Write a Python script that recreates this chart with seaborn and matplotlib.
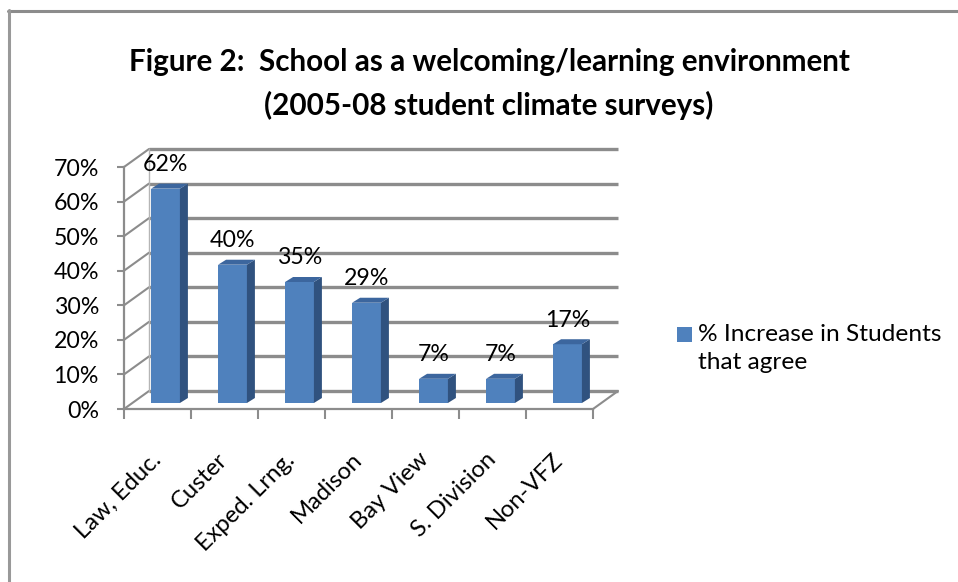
import matplotlib
matplotlib.use("Agg")
import matplotlib.pyplot as plt
import matplotlib.transforms as mtransforms
from matplotlib.patches import Polygon, Rectangle
from matplotlib.lines import Line2D
import seaborn as sns

# ---------------- data ----------------
categories = ["Law, Educ.", "Custer", "Exped. Lrng.", "Madison", "Bay View", "S. Division", "Non-VFZ"]
values = [62, 40, 35, 29, 7, 7, 17]
y_ticks = [0, 10, 20, 30, 40, 50, 60, 70]
y_tick_labels = [f"{v}%" for v in y_ticks]
title_line1 = "Figure 2:  School as a welcoming/learning environment"
title_line2 = "(2005-08 student climate surveys)"
legend_line1 = "% Increase in Students"
legend_line2 = "that agree"

# ---------------- style ----------------
sns.set_style("white")
FONT = ["Lato", "DejaVu Sans"]
plt.rcParams["font.family"] = FONT

W, H = 958, 582
fig = plt.figure(figsize=(W / 100, H / 100), dpi=100)
fig.patch.set_facecolor("white")

def fx(px):
    return px / W

def fy(py):
    return 1 - py / H

GRAY = "#8c8c8c"
FRONT = "#4f81bd"
SIDE = "#30527f"
TOP = "#3c669e"

# renderer for fitting text sizes
fig.canvas.draw()
rend = fig.canvas.get_renderer()

def width_at(text, size, weight="normal"):
    t = fig.text(0, 0, text, fontsize=size, fontweight=weight, family=FONT)
    w = t.get_window_extent(rend).width
    t.remove()
    return w

ytick_size = 10 * 45.5 / width_at("60%", 10)
value_size = 10 * 45.5 / width_at("40%", 10)
xtick_size = 10 * 111 / width_at("Law, Educ.", 10)
title_size = 10 * 724 / width_at(title_line1, 10, "bold")
legend_size = 10 * 242 / width_at(legend_line1, 10)

# ---------------- figure border (top + left) ----------------
fig.add_artist(Line2D([fx(8), fx(W + 5)], [fy(11), fy(11)], color=GRAY, lw=2.2,
                      transform=fig.transFigure))
fig.add_artist(Line2D([fx(9), fx(9)], [fy(10), fy(H + 5)], color="#999999", lw=2.2,
                      transform=fig.transFigure))

# ---------------- title ----------------
fig.text(fx(489), fy(70.5), title_line1, ha="center", va="baseline",
         fontsize=title_size, fontweight="bold", color="black")
fig.text(fx(489), fy(115), title_line2, ha="center", va="baseline",
         fontsize=title_size, fontweight="bold", color="black")

# ---------------- front axes (walls, floor, ticks) ----------------
PX_PER_CAT = 67.0
PX_PER_PCT = 242.0 / 70.0
ax = fig.add_axes([fx(124), fy(409), 469 / W, 242 / H])
ax.set_xlim(-0.5, len(categories) - 0.5)
ax.set_ylim(0, 70)
ax.patch.set_alpha(0)

DX = 25 / PX_PER_CAT
DY = 18 / PX_PER_PCT
x_left, x_right = -0.5, len(categories) - 0.5

for v in y_ticks:
    ax.plot([x_left + DX, x_right + DX], [v + DY, v + DY], color=GRAY, lw=2.4,
            solid_capstyle="butt", clip_on=False, zorder=1)
    ax.plot([x_left, x_left + DX], [v, v + DY], color=GRAY, lw=1.5,
            clip_on=False, zorder=1)
ax.plot([x_right, x_right + DX], [0, DY], color=GRAY, lw=1.5, clip_on=False, zorder=1)
ax.plot([x_left + DX, x_left + DX], [DY, 70 + DY], color="#b5b5b5", lw=1.0,
        clip_on=False, zorder=1)

for s in ["top", "right"]:
    ax.spines[s].set_visible(False)
for s in ["left", "bottom"]:
    ax.spines[s].set_color(GRAY)
    ax.spines[s].set_linewidth(1.6)

ax.set_yticks(y_ticks)
ax.set_yticklabels(y_tick_labels)
ax.tick_params(axis="y", direction="out", length=5, width=1.5, color=GRAY,
               pad=13, labelsize=ytick_size, labelcolor="black", left=True)

ax.set_xticks(range(len(categories)))
ax.set_xticklabels(categories)
ax.set_xticks([i - 0.5 for i in range(len(categories) + 1)], minor=True)
ax.tick_params(axis="x", which="major", length=0, pad=34, labelsize=xtick_size,
               labelcolor="black")
ax.tick_params(axis="x", which="minor", direction="out", length=7, width=1.5,
               color=GRAY, bottom=True)
for lab in ax.get_xticklabels():
    lab.set_rotation(45)
    lab.set_ha("right")
    lab.set_va("center")
    lab.set_rotation_mode("anchor")
ax.set_xlabel("")
ax.set_ylabel("")

# ---------------- bars (set slightly back into the depth) ----------------
ax2 = fig.add_axes([fx(132), fy(403), 469 / W, 242 / H])
sns.barplot(x=categories, y=values, ax=ax2, color=FRONT, saturation=1,
            width=0.43, edgecolor="none", linewidth=0, errorbar=None)
ax2.set_xlim(-0.5, len(categories) - 0.5)
ax2.set_ylim(0, 70)
ax2.axis("off")
ax2.patch.set_alpha(0)

bdx = 8 / PX_PER_CAT
bdy = 5 / PX_PER_PCT
for p, v in zip(ax2.patches, values):
    x0, w, h = p.get_x(), p.get_width(), p.get_height()
    ax2.add_patch(Polygon([(x0 + w, 0), (x0 + w + bdx, bdy), (x0 + w + bdx, h + bdy),
                           (x0 + w, h)], closed=True, facecolor=SIDE, edgecolor="none",
                          clip_on=False))
    ax2.add_patch(Polygon([(x0, h), (x0 + bdx, h + bdy), (x0 + w + bdx, h + bdy),
                           (x0 + w, h)], closed=True, facecolor=TOP, edgecolor="none",
                          clip_on=False))
    ax2.annotate(f"{v}%", xy=(x0 + w / 2, h), xytext=(0, 24 * 0.72),
                 textcoords="offset points", ha="center", va="center",
                 fontsize=value_size, color="black", annotation_clip=False)

# ---------------- legend ----------------
fig.add_artist(Rectangle((fx(677), fy(342)), 15 / W, 15 / H, facecolor=FRONT,
                         edgecolor="none", transform=fig.transFigure))
fig.text(fx(698), fy(341), legend_line1, ha="left", va="baseline",
         fontsize=legend_size, color="black")
fig.text(fx(698), fy(369), legend_line2, ha="left", va="baseline",
         fontsize=legend_size, color="black")

fig.savefig("out.png", dpi=100)
